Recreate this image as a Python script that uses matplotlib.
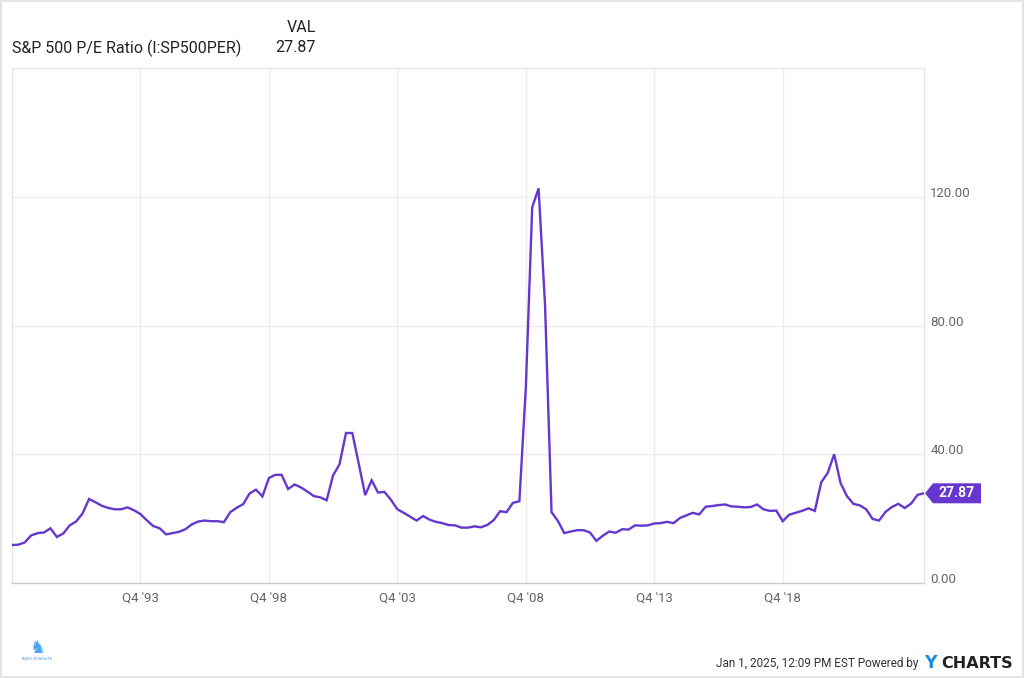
import numpy as np
import pandas as pd
import matplotlib
matplotlib.use('Agg')
import matplotlib.pyplot as plt
import matplotlib.dates as mdates
import matplotlib.transforms as mtransforms
from matplotlib.patches import Polygon

plt.rcParams['font.family'] = ['Roboto', 'DejaVu Sans']

# quarterly S&P 500 P/E ratio, Q4 1988 .. Q2 2024
pe = [11.8, 11.9, 12.6, 14.8, 15.5, 15.7, 17.0, 14.3, 15.4, 17.9,
      19.1, 21.6, 26.1, 25.1, 24.0, 23.3, 22.9, 22.9, 23.5, 22.6,
      21.4, 19.5, 17.7, 17.0, 15.1, 15.5, 15.9, 16.7, 18.2, 19.1,
      19.4, 19.2, 19.2, 18.9, 22.0, 23.4, 24.5, 27.8, 29.0, 26.9,
      32.6, 33.6, 33.6, 29.2, 30.6, 29.7, 28.4, 27.0, 26.6, 25.7,
      33.4, 36.9, 46.6, 46.6, 37.1, 27.3, 31.9, 28.1, 28.3, 25.9,
      22.9, 21.8, 20.6, 19.4, 20.8, 19.7, 19.0, 18.6, 18.0, 17.9,
      17.2, 17.2, 17.6, 17.3, 18.0, 19.5, 22.3, 22.0, 24.9, 25.4,
      60.9, 116.7, 122.6, 86.2, 22.0, 19.3, 15.5, 16.0, 16.4, 16.4,
      15.7, 13.1, 14.7, 16.0, 15.6, 16.7, 16.6, 17.9, 17.8, 17.9,
      18.5, 18.6, 19.0, 18.6, 20.2, 21.0, 21.8, 21.3, 23.7, 23.9,
      24.2, 24.4, 23.8, 23.7, 23.5, 23.6, 24.4, 22.9, 22.4, 22.5,
      19.2, 21.2, 21.8, 22.4, 23.2, 22.4, 31.3, 34.2, 40.0, 31.1,
      27.0, 24.6, 24.1, 22.9, 19.9, 19.4, 22.1, 23.6, 24.6, 23.3,
      24.7, 27.4, 27.87]
dates = pd.date_range('1988-12-31', periods=len(pe), freq='QE')

tick_dates = pd.to_datetime(['1993-12-31', '1998-12-31', '2003-12-31',
                             '2008-12-31', '2013-12-31', '2018-12-31'])
tick_labels = ["Q4 '93", "Q4 '98", "Q4 '03", "Q4 '08", "Q4 '13", "Q4 '18"]
y_ticks = [0, 40, 80, 120]

series_name = 'S&P 500 P/E Ratio (I:SP500PER)'
purple = '#6637cf'
grid_c = '#eeeeee'
text_c = '#666666'

fig = plt.figure(figsize=(10.24, 6.78), dpi=100)
fig.patch.set_edgecolor('#e4e4e4')
fig.patch.set_linewidth(1.5)
ax = fig.add_axes([12/1024, 1 - 583/678, 912/1024, (583 - 68)/678])

ax.plot(dates, pe, color=purple, lw=1.7, solid_joinstyle='miter', zorder=3)

ax.set_xlim(dates[0], dates[-1])
ax.set_ylim(0, 160)
ax.set_xticks(tick_dates)
ax.set_xticklabels(tick_labels)
ax.set_yticks(y_ticks)
ax.set_yticklabels([f'{v:.2f}' for v in y_ticks])
ax.yaxis.tick_right()
ax.tick_params(length=0, labelsize=9.5, labelcolor=text_c)
ax.tick_params(axis='y', pad=4.5)
ax.tick_params(axis='x', pad=6)
for lab in ax.get_yticklabels():
    lab.set_transform(lab.get_transform() +
                      mtransforms.ScaledTranslation(0, 5/100, fig.dpi_scale_trans))
ax.grid(True, color=grid_c, lw=1)
ax.set_axisbelow(True)
for s in ['left', 'right', 'top']:
    ax.spines[s].set_color('#e6e6e6')
ax.spines['bottom'].set_color('#cccccc')
for s in ax.spines.values():
    s.set_linewidth(1)

# last value tag
xl = mdates.date2num(dates[-1])
tag_tr = fig.dpi_scale_trans + mtransforms.ScaledTranslation(xl, pe[-1], ax.transData)
tag = Polygon([(0.01, 0), (0.09, 0.10), (0.57, 0.10), (0.57, -0.10), (0.09, -0.10)],
              closed=True, transform=tag_tr, fc=purple, ec='none', clip_on=False, zorder=5)
ax.add_patch(tag)
ax.annotate(f'{pe[-1]:.2f}', xy=(dates[-1], pe[-1]), xytext=(23.5, 0),
            textcoords='offset points', ha='center', va='center',
            color='white', fontsize=10, fontweight='bold', annotation_clip=False, zorder=6)

# header
fig.text(316/1024, 1 - 28/678, 'VAL', ha='right', va='center', fontsize=11.5, color='#222222')
fig.text(12/1024, 1 - 48/678, series_name, ha='left', va='center', fontsize=11.5, color='#222222')
fig.text(316/1024, 1 - 48/678, f'{pe[-1]:.2f}', ha='right', va='center', fontsize=11.5, color='#222222')

# footer
fig.text(918/1024, 1 - 663/678, 'Jan 1, 2025, 12:09 PM EST Powered by', ha='right', va='center',
         fontsize=8.5, color='#333333')
fig.text(937/1024, 1 - 663/678, 'Y', ha='right', va='center', fontsize=12.5,
         fontweight='bold', color='#1a8fe0', family=['DejaVu Sans'])
fig.text(1013/1024, 1 - 663/678, 'CHARTS', ha='right', va='center', fontsize=11.5,
         fontweight='bold', color='#222222', family=['DejaVu Sans'])

# small logo bottom left
fig.text(37/1024, 1 - 648/678, '\u265e', ha='center', va='center', fontsize=13,
         color='#4aa8f0', family=['DejaVu Sans'])
fig.text(37/1024, 1 - 659/678, 'BABYLON WEALTH', ha='center', va='center', fontsize=2.5,
         color='#4a8fd0')

fig.savefig('out.png', dpi=100, edgecolor=fig.get_edgecolor())
